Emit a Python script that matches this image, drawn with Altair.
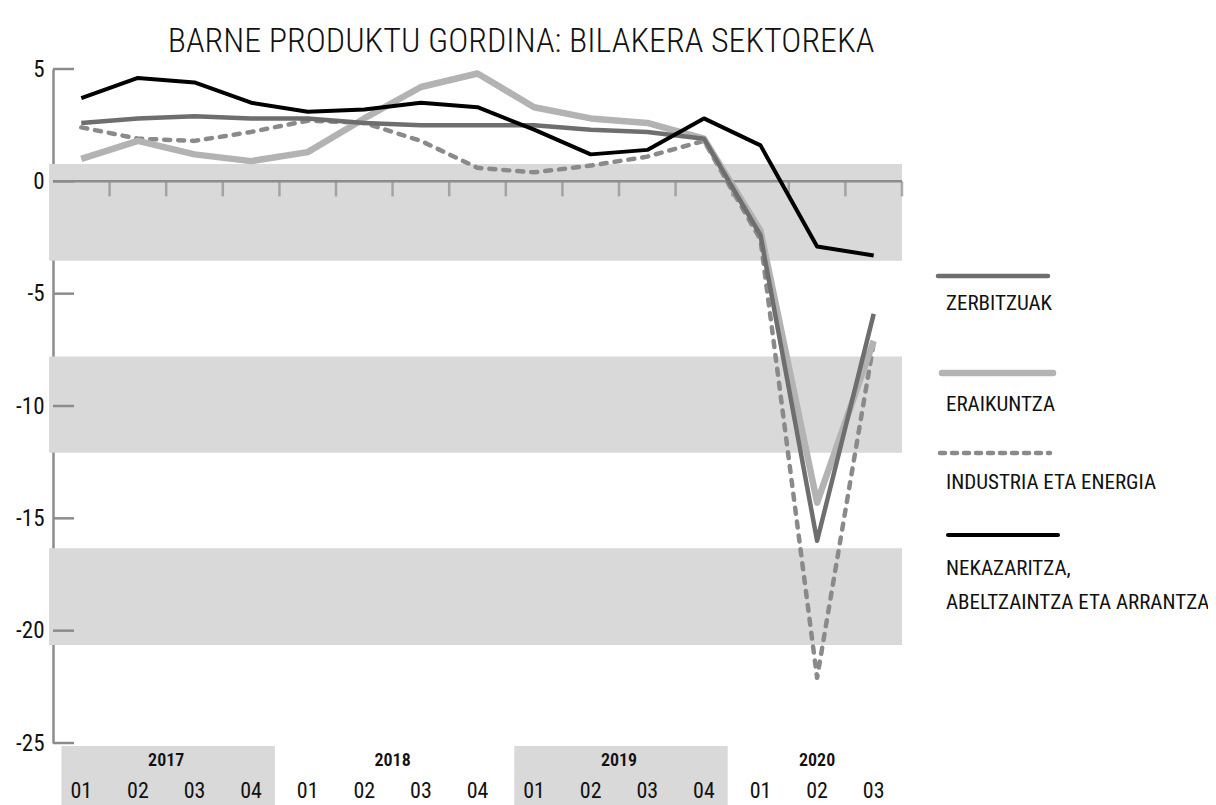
import altair as alt
import pandas as pd

# ---------------- data ----------------
title_text = "BARNE PRODUKTU GORDINA: BILAKERA SEKTOREKA"
quarters = ["01", "02", "03", "04", "01", "02", "03", "04",
            "01", "02", "03", "04", "01", "02", "03"]
years = ["2017", "2018", "2019", "2020"]
quarters_per_year = [4, 4, 4, 3]
shaded_years = ["2017", "2019"]

zerbitzuak = [2.6, 2.8, 2.9, 2.8, 2.8, 2.6, 2.5, 2.5, 2.5, 2.3, 2.2, 1.9, -2.4, -16.0, -5.9]
eraikuntza = [1.0, 1.8, 1.2, 0.9, 1.3, 2.8, 4.2, 4.8, 3.3, 2.8, 2.6, 1.9, -2.2, -14.3, -7.1]
industria = [2.4, 1.9, 1.8, 2.2, 2.7, 2.6, 1.8, 0.6, 0.4, 0.7, 1.1, 1.8, -2.6, -22.1, -7.2]
nekazaritza = [3.7, 4.6, 4.4, 3.5, 3.1, 3.2, 3.5, 3.3, 2.3, 1.2, 1.4, 2.8, 1.6, -2.9, -3.3]

series_names = ["ZERBITZUAK", "ERAIKUNTZA", "INDUSTRIA ETA ENERGIA",
                "NEKAZARITZA,\nABELTZAINTZA ETA ARRANTZA"]
y_ticks = [5, 0, -5, -10, -15, -20, -25]
band_tops = [0.77, -7.8, -16.33]
band_bottoms = [-3.53, -12.08, -20.64]

# ---------------- layout / style ----------------
W, H = 849, 674
FONT = "Roboto Condensed, Liberation Sans Narrow, DejaVu Sans Condensed, sans-serif"
AXIS_GREY = "#8c8c8c"
BAND_GREY = "#d9d9d9"

styles = {
    "ZERBITZUAK": dict(color="#6e6e6e", width=4.5, dash=None),
    "ERAIKUNTZA": dict(color="#b3b3b3", width=6.5, dash=None),
    "INDUSTRIA ETA ENERGIA": dict(color="#8a8a8a", width=4.5, dash=[6, 8]),
    "NEKAZARITZA,\nABELTZAINTZA ETA ARRANTZA": dict(color="#000000", width=4, dash=None),
}
series_values = dict(zip(series_names, [zerbitzuak, eraikuntza, industria, nekazaritza]))
draw_order = [series_names[2], series_names[1], series_names[0], series_names[3]]

# legend layout (pixels inside plot area)
legend_layout = {
    series_names[0]: dict(x1=885, x2=995, y=207, ty=[235]),
    series_names[1]: dict(x1=889, x2=1000, y=304, ty=[336]),
    series_names[2]: dict(x1=887, x2=997, y=384, ty=[414]),
    series_names[3]: dict(x1=895, x2=1005, y=466, ty=[500, 534]),
}

xscale = alt.Scale(domain=[-0.5, 14.5], nice=False, zero=False)
yscale = alt.Scale(domain=[-25, 5], nice=False, zero=False)

idx = list(range(len(quarters)))

# ---------------- layers ----------------
bands_df = pd.DataFrame({"top": band_tops, "bottom": band_bottoms})
bands = alt.Chart(bands_df).mark_rect(color=BAND_GREY).encode(
    x=alt.value(-4), x2=alt.value(W),
    y=alt.Y("top:Q", scale=yscale, title=None,
            axis=alt.Axis(values=y_ticks, title=None, labelExpr="'' + datum.value")),
    y2="bottom:Q",
)

zero_df = pd.DataFrame({"v": [0]})
zero_line = alt.Chart(zero_df).mark_rule(color=AXIS_GREY, strokeWidth=2.5).encode(
    x=alt.value(0), x2=alt.value(W),
    y=alt.Y("v:Q", scale=yscale, title=None),
)

xt_df = pd.DataFrame({"b": [i + 0.5 for i in idx], "v": [0] * len(idx)})
x_ticks = alt.Chart(xt_df).mark_tick(
    orient="vertical", size=15, thickness=2.5, yOffset=7.5, color=AXIS_GREY
).encode(
    x=alt.X("b:Q", scale=xscale, axis=None),
    y=alt.Y("v:Q", scale=yscale, title=None),
)

yt_df = pd.DataFrame({"v": y_ticks})
y_tick_marks = alt.Chart(yt_df).mark_rule(color=AXIS_GREY, strokeWidth=2.5).encode(
    x=alt.value(0), x2=alt.value(21),
    y=alt.Y("v:Q", scale=yscale, title=None),
)

line_layers = []
for name in draw_order:
    st = styles[name]
    df = pd.DataFrame({"i": idx, "value": series_values[name]})
    kw = dict(color=st["color"], strokeWidth=st["width"], strokeJoin="round")
    if st["dash"]:
        kw["strokeDash"] = st["dash"]
        kw["strokeCap"] = "round"
    line_layers.append(
        alt.Chart(df).mark_line(**kw).encode(
            x=alt.X("i:Q", scale=xscale, axis=None),
            y=alt.Y("value:Q", scale=yscale, title=None),
        )
    )

# bottom category axis (years + quarters)
starts, s = [], 0
for n in quarters_per_year:
    starts.append(s)
    s += n
yr_df = pd.DataFrame({
    "year": years,
    "x0": [st - 0.5 + 0.15 for st in starts],
    "x1": [st + n - 0.5 - 0.08 for st, n in zip(starts, quarters_per_year)],
    "mid": [st + (n - 1) / 2 for st, n in zip(starts, quarters_per_year)],
})
year_bands = alt.Chart(yr_df[yr_df["year"].isin(shaded_years)]).mark_rect(color=BAND_GREY).encode(
    x=alt.X("x0:Q", scale=xscale, axis=None), x2="x1:Q",
    y=alt.value(677), y2=alt.value(740),
)
year_text = alt.Chart(yr_df).mark_text(
    font=FONT, fontSize=18, fontWeight=600, color="#111111", baseline="middle"
).encode(
    x=alt.X("mid:Q", scale=xscale, axis=None),
    y=alt.value(692),
    text="year:N",
)
q_df = pd.DataFrame({"i": idx, "q": quarters})
q_text = alt.Chart(q_df).mark_text(
    font=FONT, fontSize=22, color="#111111", baseline="middle"
).encode(
    x=alt.X("i:Q", scale=xscale, axis=None),
    y=alt.value(722),
    text="q:N",
)

# legend
legend_layers = []
for name in series_names:
    st = styles[name]
    lay = legend_layout[name]
    kw = dict(color=st["color"], strokeWidth=st["width"], strokeCap="round")
    if st["dash"]:
        kw["strokeDash"] = [5, 7]
    legend_layers.append(
        alt.Chart(zero_df).mark_rule(**kw).encode(
            x=alt.value(lay["x1"]), x2=alt.value(lay["x2"]), y=alt.value(lay["y"])
        )
    )
    for line_text, ty in zip(name.split("\n"), lay["ty"]):
        legend_layers.append(
            alt.Chart(zero_df).mark_text(
                font=FONT, fontSize=21, color="#111111", align="left", baseline="middle"
            ).encode(x=alt.value(893), y=alt.value(ty), text=alt.value(line_text))
        )

title_layer = alt.Chart(zero_df).mark_text(
    font=FONT, fontSize=34, fontWeight=300, color="#111111", align="center",
    baseline="alphabetic"
).encode(x=alt.value(468), y=alt.value(-17), text=alt.value(title_text))

chart = alt.layer(
    bands, year_bands, zero_line, x_ticks, y_tick_marks, *line_layers,
    year_text, q_text, *legend_layers, title_layer,
).properties(
    width=W, height=H,
    autosize=alt.AutoSizeParams(type="none"),
    padding={"left": 45, "top": 61, "right": 306, "bottom": 62},
).configure_view(stroke=None).configure_axisY(
    domainColor=AXIS_GREY, domainWidth=2.5, ticks=False, grid=False,
    labelFont=FONT, labelFontSize=23, labelColor="#111111", labelPadding=9,
)

chart.save("out.html", embed_options={"renderer": "svg", "actions": False})
